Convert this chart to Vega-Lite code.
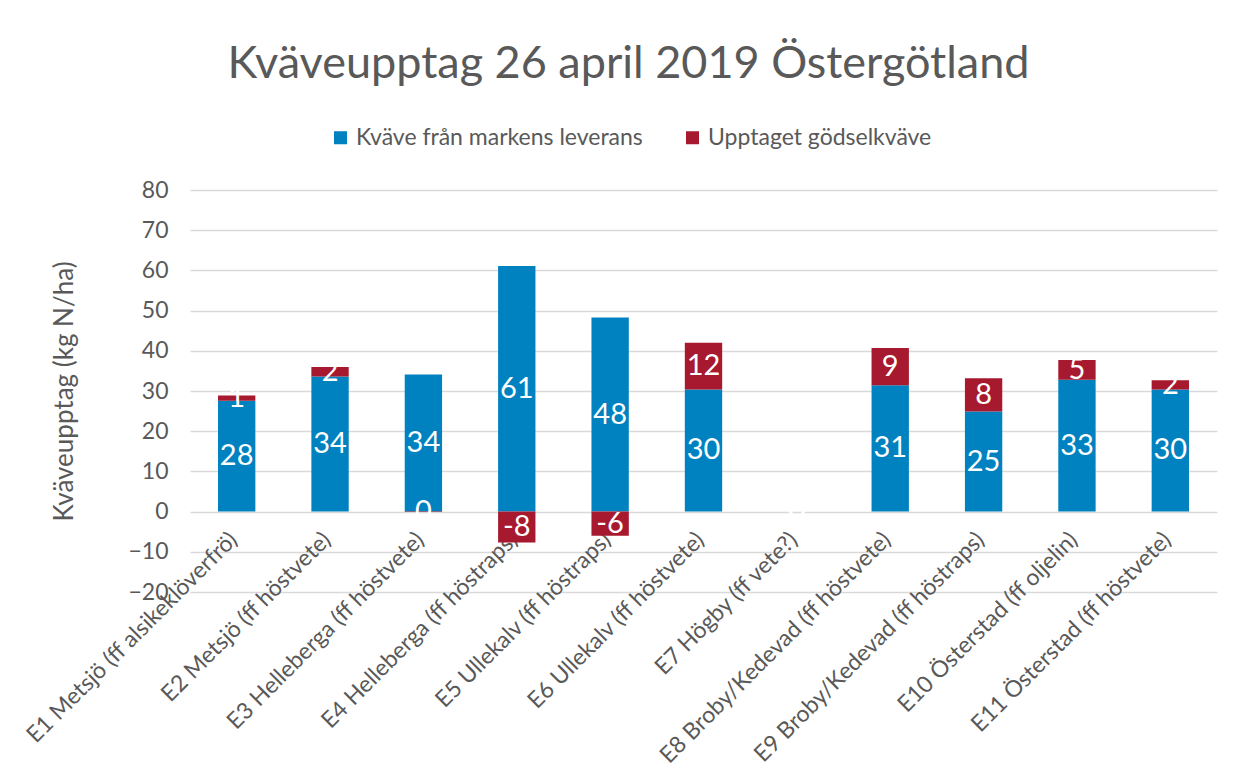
{
  "$schema": "https://vega.github.io/schema/vega-lite/v6.json",
  "autosize": {"type": "none"},
  "width": 1027,
  "height": 402,
  "padding": {"left": 190, "top": 190, "right": 19, "bottom": 188},
  "background": "white",
  "title": {
    "text": "Kväveupptag 26 april 2019 Östergötland",
    "font": "Lato",
    "fontSize": 45,
    "fontWeight": "normal",
    "color": "#595959",
    "anchor": "middle",
    "frame": "group",
    "dx": -75,
    "baseline": "alphabetic",
    "offset": 3
  },
  "data": {
    "values": [
      {"site": "E1 Metsjö (ff alsikeklöverfrö)", "series": "Kväve från markens leverans", "value": 27.6, "label": "28"},
      {"site": "E1 Metsjö (ff alsikeklöverfrö)", "series": "Upptaget gödselkväve", "value": 1.3, "label": "1"},
      {"site": "E2 Metsjö (ff höstvete)", "series": "Kväve från markens leverans", "value": 33.6, "label": "34"},
      {"site": "E2 Metsjö (ff höstvete)", "series": "Upptaget gödselkväve", "value": 2.4, "label": "2"},
      {"site": "E3 Helleberga (ff höstvete)", "series": "Kväve från markens leverans", "value": 34.1, "label": "34"},
      {"site": "E3 Helleberga (ff höstvete)", "series": "Upptaget gödselkväve", "value": -0.1, "label": "0"},
      {"site": "E4 Helleberga (ff höstraps)", "series": "Kväve från markens leverans", "value": 61.1, "label": "61"},
      {"site": "E4 Helleberga (ff höstraps)", "series": "Upptaget gödselkväve", "value": -7.7, "label": "-8"},
      {"site": "E5 Ullekalv (ff höstraps)", "series": "Kväve från markens leverans", "value": 48.3, "label": "48"},
      {"site": "E5 Ullekalv (ff höstraps)", "series": "Upptaget gödselkväve", "value": -6.0, "label": "-6"},
      {"site": "E6 Ullekalv (ff höstvete)", "series": "Kväve från markens leverans", "value": 30.4, "label": "30"},
      {"site": "E6 Ullekalv (ff höstvete)", "series": "Upptaget gödselkväve", "value": 11.6, "label": "12"},
      {"site": "E7 Högby (ff vete?)", "series": "Kväve från markens leverans", "value": 0, "label": "0"},
      {"site": "E7 Högby (ff vete?)", "series": "Upptaget gödselkväve", "value": 0, "label": "0"},
      {"site": "E8 Broby/Kedevad (ff höstvete)", "series": "Kväve från markens leverans", "value": 31.4, "label": "31"},
      {"site": "E8 Broby/Kedevad (ff höstvete)", "series": "Upptaget gödselkväve", "value": 9.3, "label": "9"},
      {"site": "E9 Broby/Kedevad (ff höstraps)", "series": "Kväve från markens leverans", "value": 24.9, "label": "25"},
      {"site": "E9 Broby/Kedevad (ff höstraps)", "series": "Upptaget gödselkväve", "value": 8.3, "label": "8"},
      {"site": "E10 Österstad (ff oljelin)", "series": "Kväve från markens leverans", "value": 32.8, "label": "33"},
      {"site": "E10 Österstad (ff oljelin)", "series": "Upptaget gödselkväve", "value": 4.9, "label": "5"},
      {"site": "E11 Österstad (ff höstvete)", "series": "Kväve från markens leverans", "value": 30.4, "label": "30"},
      {"site": "E11 Österstad (ff höstvete)", "series": "Upptaget gödselkväve", "value": 2.3, "label": "2"}
    ]
  },
  "encoding": {
    "x": {
      "field": "site",
      "type": "nominal",
      "sort": null,
      "title": null,
      "scale": {"paddingInner": 0.6, "paddingOuter": 0.3},
      "axis": {
        "offset": -80,
        "domain": false,
        "ticks": false,
        "grid": false,
        "labelAngle": -45,
        "labelAlign": "right",
        "labelBaseline": "middle",
        "labelPadding": 24,
        "labelOffset": -3,
        "labelFont": "Lato",
        "labelFontSize": 23,
        "labelColor": "#595959",
        "labelLimit": 0
      }
    }
  },
  "layer": [
    {
      "mark": {"type": "bar"},
      "encoding": {
        "y": {
          "field": "value",
          "type": "quantitative",
          "stack": "zero",
          "title": "Kväveupptag (kg N/ha)",
          "scale": {"domain": [-20, 80], "nice": false},
          "axis": {
            "values": [-20, -10, 0, 10, 20, 30, 40, 50, 60, 70, 80],
            "domain": false,
            "ticks": false,
            "gridColor": "#d9d9d9",
            "gridWidth": 1.5,
            "labelFont": "Lato",
            "labelFontSize": 23,
            "labelColor": "#595959",
            "labelPadding": 22,
            "titleFont": "Lato",
            "titleFontSize": 26,
            "titleFontWeight": "normal",
            "titleColor": "#595959",
            "titlePadding": 50
          }
        },
        "order": {"field": "series", "type": "nominal", "sort": "ascending"},
        "color": {
          "field": "series",
          "type": "nominal",
          "scale": {
            "domain": ["Kväve från markens leverans", "Upptaget gödselkväve"],
            "range": ["#0082C0", "#A6192E"]
          },
          "legend": {
            "title": null,
            "orient": "none",
            "direction": "horizontal",
            "legendX": 139,
            "legendY": -64,
            "symbolType": "square",
            "symbolSize": 169,
            "symbolStrokeWidth": 0,
            "labelFont": "Lato",
            "labelFontSize": 23,
            "labelColor": "#595959",
            "labelOffset": 4,
            "labelLimit": 0,
            "columnPadding": 38,
            "padding": 0
          }
        }
      }
    },
    {
      "mark": {"type": "text", "color": "white", "font": "Lato", "fontSize": 29, "align": "center", "baseline": "middle"},
      "encoding": {
        "y": {"field": "value", "type": "quantitative", "stack": "zero", "bandPosition": 0.5},
        "detail": {"field": "series", "type": "nominal"},
        "order": {"field": "series", "type": "nominal", "sort": "ascending"},
        "text": {"field": "label", "type": "nominal"}
      }
    }
  ],
  "config": {
    "view": {"stroke": null},
    "axis": {"labelFontWeight": "normal"}
  }
}
